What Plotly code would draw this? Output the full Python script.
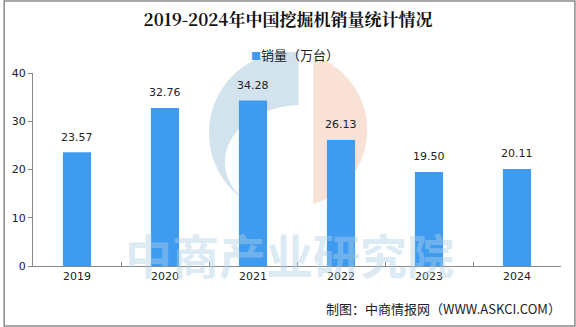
import numpy as np
import plotly.graph_objects as go

years = ["2019", "2020", "2021", "2022", "2023", "2024"]
sales = [23.57, 32.76, 34.28, 26.13, 19.50, 20.11]
labels = ["23.57", "32.76", "34.28", "26.13", "19.50", "20.11"]
y_ticks = [0, 10, 20, 30, 40]

W, H = 576, 327
L, R, T, B = 30, 15, 73, 61
PW, PH = W - L - R, H - T - B

def px(X, Y):
    return (X - L) / PW, (H - B - Y) / PH

def path_from(points):
    pts = [px(x, y) for x, y in points]
    return "M " + " L ".join(f"{a:.5f},{b:.5f}" for a, b in pts) + " Z"

# watermark logo: blue disc part (left), white inner ellipse, orange half disc (right)
a_b = np.degrees(np.arccos(9 / 81))
t_b = np.radians(np.linspace(a_b, 360 - a_b, 90))
blue_pts = [(288 + 81 * np.cos(t), 133 - 81 * np.sin(t)) for t in t_b]
t_e = np.radians(np.linspace(0, 360, 90))
white_pts = [(300 + 77 * np.cos(t), 162 - 57 * np.sin(t)) for t in t_e]
a0 = np.degrees(np.arccos(24 / 78))
t_or = np.radians(np.linspace(a0, -a0, 60))
orange_pts = [(288 + 78 * np.cos(t), 130 - 78 * np.sin(t)) for t in t_or]

fig = go.Figure()
fig.add_trace(go.Bar(
    x=years, y=sales, name="销量（万台）",
    marker=dict(color="#3e9bf0", line=dict(width=0)),
    width=0.32, showlegend=False,
))

annotations = []
for i, (v, lab) in enumerate(zip(sales, labels)):
    annotations.append(dict(x=i, y=v, xref="x", yref="y", text=lab, showarrow=False,
                            yshift=15, xanchor="center", yanchor="middle",
                            font=dict(size=11, color="#222", family="DejaVu Sans")))

bx0, by0 = px(1, 1)
bx1, by1 = px(W - 1, H - 1)
annotations.append(dict(x=px(288, 0)[0], y=px(0, 253)[1], xref="paper", yref="paper",
                        xanchor="center", yanchor="middle",
                        text="<b>中商产业研究院</b>", showarrow=False,
                        font=dict(size=47, color="rgba(175,207,232,0.45)",
                                  family="Noto Sans CJK SC")))
annotations.append(dict(x=px(563, 0)[0], y=px(0, 308)[1], xref="paper", yref="paper",
                        xanchor="right", yanchor="middle",
                        text="制图：中商情报网（WWW.ASKCI.COM）", showarrow=False,
                        font=dict(size=13, color="#222", family="Noto Sans CJK SC")))
annotations.append(dict(x=px(247, 0)[0], y=px(0, 55)[1], xref="paper", yref="paper",
                        xanchor="left", yanchor="middle",
                        text="<span style='color:#3e9bf0;font-size:10px'>■</span>销量（万台）",
                        showarrow=False,
                        font=dict(size=13, color="#222", family="Noto Sans CJK SC")))

shapes = [
    dict(type="path", path=path_from(blue_pts), xref="paper", yref="paper",
         fillcolor="#d3e3ee", line=dict(width=0), layer="below"),
    dict(type="path", path=path_from(white_pts), xref="paper", yref="paper",
         fillcolor="white", line=dict(width=0), layer="below"),
    dict(type="path", path=path_from(orange_pts), xref="paper", yref="paper",
         fillcolor="#f9e1d6", line=dict(width=0), layer="below"),
    dict(type="rect", xref="paper", yref="paper", x0=bx0, y0=by0, x1=bx1, y1=by1,
         line=dict(color="#8a8a8a", width=1.5), fillcolor="rgba(0,0,0,0)", layer="above"),
]

fig.update_layout(
    width=W, height=H,
    margin=dict(l=L, r=R, t=T, b=B),
    paper_bgcolor="white", plot_bgcolor="rgba(0,0,0,0)",
    title=dict(text="<b>2019-2024年中国挖掘机销量统计情况</b>", x=0.5, xanchor="center",
               y=1 - 20 / H, yanchor="middle",
               font=dict(size=17, color="#111", family="Noto Serif CJK SC, Noto Sans CJK SC")),
    showlegend=False,
    xaxis=dict(type="category", range=[-0.5, len(years) - 0.5], autorange=False,
               showline=True, linecolor="#888", linewidth=1, ticks="inside",
               tickson="boundaries", ticklen=4, tickcolor="#888",
               tickfont=dict(size=11, color="#222", family="DejaVu Sans"),
               showgrid=False),
    yaxis=dict(range=[0, 40], tickvals=y_ticks, showline=True, linecolor="#888",
               linewidth=1, ticks="outside", ticklen=4, tickcolor="#888",
               tickfont=dict(size=11, color="#222", family="DejaVu Sans"),
               showgrid=False, zeroline=False),
    annotations=annotations,
    shapes=shapes,
    bargap=0.68,
)

fig.write_html("out.html")
